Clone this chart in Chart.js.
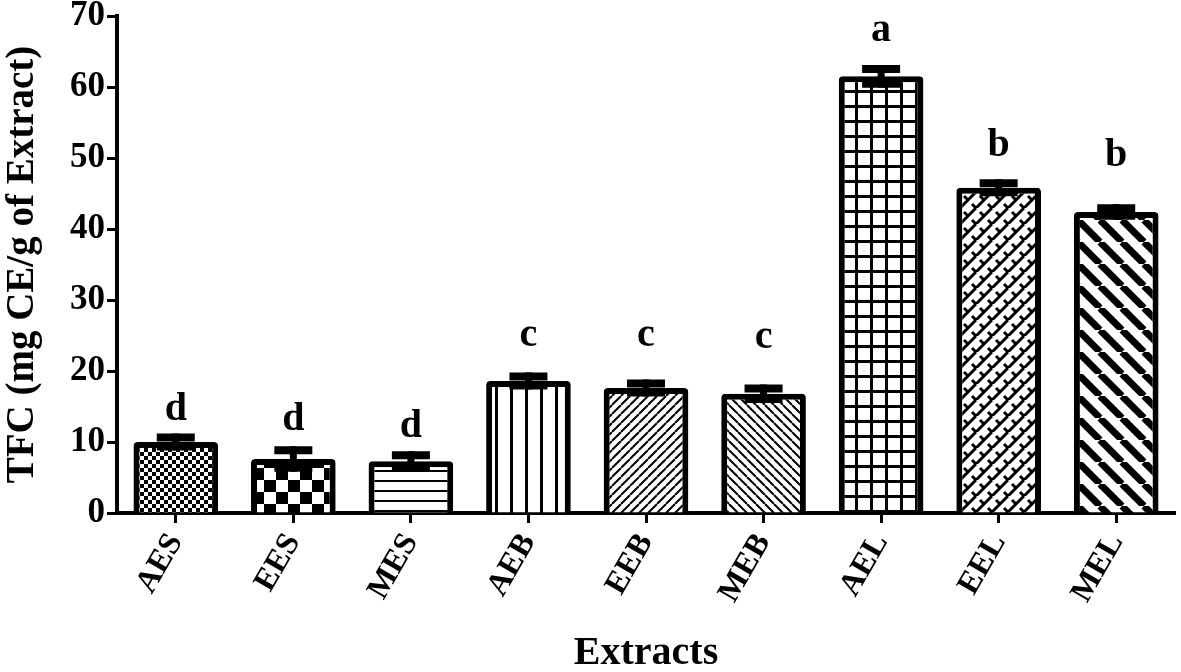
<!DOCTYPE html>
<html>
<head>
<meta charset="utf-8">
<script src="https://cdn.jsdelivr.net/npm/chart.js@4.4.0/dist/chart.umd.min.js"></script>
<style>
  html, body { margin: 0; padding: 0; background: #fff; }
  #wrap { width: 1181px; height: 672px; }
</style>
</head>
<body>
<div id="wrap"><canvas id="tfcChart" width="1181" height="672"></canvas></div>
<script>
// data
const extracts = ["AES", "EES", "MES", "AEB", "EEB", "MEB", "AEL", "EEL", "MEL"];
const tfcMean = [10.0, 7.6, 7.3, 18.6, 17.6, 16.8, 61.5, 45.8, 42.4];
const tfcSd = [1.2, 1.8, 1.4, 1.2, 1.2, 1.3, 1.6, 1.2, 1.1];
const groupLetters = ["d", "d", "d", "c", "c", "c", "a", "b", "b"];
const letterLevel = [14.5, 13.1, 12.2, 25.0, 25.0, 24.7, 68.0, 51.8, 50.3];
const yTicks = [0, 10, 20, 30, 40, 50, 60, 70];

// fill patterns for each bar
function tile(size, draw) {
    const c = document.createElement("canvas");
    c.width = size;
    c.height = size;
    const g = c.getContext("2d");
    g.fillStyle = "#fff";
    g.fillRect(0, 0, size, size);
    g.fillStyle = "#000";
    g.strokeStyle = "#000";
    draw(g, size);
    return document.getElementById("tfcChart").getContext("2d").createPattern(c, "repeat");
}

function checker(sq) {
    return tile(sq * 2, (g) => {
        g.fillRect(0, 0, sq, sq);
        g.fillRect(sq, sq, sq, sq);
    });
}

function diag(size, width, dir) {
    return tile(size, (g, s) => {
        g.lineWidth = width;
        g.beginPath();
        for (let k = -1; k <= 1; k++) {
            if (dir > 0) {
                g.moveTo(k * s, s);
                g.lineTo(k * s + s, 0);
            } else {
                g.moveTo(k * s, 0);
                g.lineTo(k * s + s, s);
            }
        }
        g.stroke();
    });
}

const patterns = [
    checker(4),
    checker(12),
    tile(10, (g) => { g.fillRect(0, 0, 10, 2); }),
    tile(15, (g) => { g.fillRect(0, 0, 3, 15); }),
    diag(9, 2, 1),
    diag(9, 2, -1),
    tile(15, (g) => { g.fillRect(0, 0, 15, 3); g.fillRect(0, 0, 3, 15); }),
    tile(16, (g, s) => {
        g.lineWidth = 3;
        g.beginPath();
        for (let k = -1; k <= 1; k++) {
            g.moveTo(k * s, s);
            g.lineTo(k * s + s, 0);
        }
        g.moveTo(4, 4); g.lineTo(8, 8);
        g.moveTo(12, 12); g.lineTo(16, 16);
        g.stroke();
    }),
    diag(22, 7, -1),
];

// error bars + significance letters
const errorBars = {
    id: "errorBars",
    afterDatasetsDraw(chart) {
        const g = chart.ctx;
        const x = chart.scales.x;
        const y = chart.scales.y;
        const cap = 38;
        g.save();
        g.strokeStyle = "#000";
        g.lineCap = "butt";
        tfcMean.forEach((m, i) => {
            const px = x.getPixelForValue(i);
            const hi = y.getPixelForValue(m + tfcSd[i]);
            const lo = y.getPixelForValue(m - tfcSd[i]);
            g.lineWidth = 7;
            g.beginPath();
            g.moveTo(px, hi);
            g.lineTo(px, lo);
            g.stroke();
            g.lineWidth = 8;
            g.beginPath();
            g.moveTo(px - cap / 2, hi + 4);
            g.lineTo(px + cap / 2, hi + 4);
            g.moveTo(px - cap / 2, lo - 4);
            g.lineTo(px + cap / 2, lo - 4);
            g.stroke();
        });
        g.fillStyle = "#000";
        g.font = "bold 40px 'Liberation Serif'";
        g.textAlign = "center";
        g.textBaseline = "middle";
        groupLetters.forEach((t, i) => {
            g.fillText(t, x.getPixelForValue(i), y.getPixelForValue(letterLevel[i]));
        });
        g.restore();
    },
};

Chart.defaults.font.family = "'Liberation Serif', 'Times New Roman', serif";
Chart.defaults.color = "#000";

new Chart(document.getElementById("tfcChart"), {
    type: "bar",
    data: {
        labels: extracts,
        datasets: [
            {
                label: "TFC",
                data: tfcMean,
                backgroundColor: patterns,
                borderColor: "#000",
                borderWidth: 6,
                borderRadius: 4,
                borderSkipped: "bottom",
                barPercentage: 0.72,
                categoryPercentage: 1,
            },
        ],
    },
    options: {
        responsive: false,
        animation: false,
        layout: { padding: { top: 16, right: 6, left: 0, bottom: 0 } },
        plugins: {
            legend: { display: false },
            tooltip: { enabled: false },
        },
        scales: {
            x: {
                grid: {
                    display: true,
                    drawOnChartArea: false,
                    drawTicks: true,
                    tickLength: 10,
                    tickWidth: 3,
                    color: "#000",
                    offset: false,
                },
                border: { display: true, color: "#000", width: 4 },
                ticks: {
                    font: { size: 32, weight: "bold" },
                    minRotation: 60,
                    maxRotation: 60,
                    padding: 4,
                },
                title: {
                    display: true,
                    text: "Extracts",
                    font: { size: 40, weight: "bold" },
                    padding: { top: 0, bottom: -6 },
                },
                afterFit(s) { s.height = 159; },
            },
            y: {
                min: 0,
                max: 70,
                afterBuildTicks(s) { s.ticks = yTicks.map((v) => ({ value: v })); },
                grid: {
                    display: true,
                    drawOnChartArea: false,
                    drawTicks: true,
                    tickLength: 10,
                    tickWidth: 3,
                    color: "#000",
                },
                border: { display: true, color: "#000", width: 4 },
                ticks: {
                    font: { size: 35, weight: "bold" },
                    padding: 2,
                },
                title: {
                    display: true,
                    text: "TFC (mg CE/g of Extract)",
                    font: { size: 39, weight: "bold" },
                    padding: { top: 0, bottom: 2 },
                },
                afterFit(s) {
                    s.width = 117;
                    s.paddingTop = 0;
                    s.paddingBottom = 0;
                },
            },
        },
    },
    plugins: [errorBars],
});
</script>
</body>
</html>
